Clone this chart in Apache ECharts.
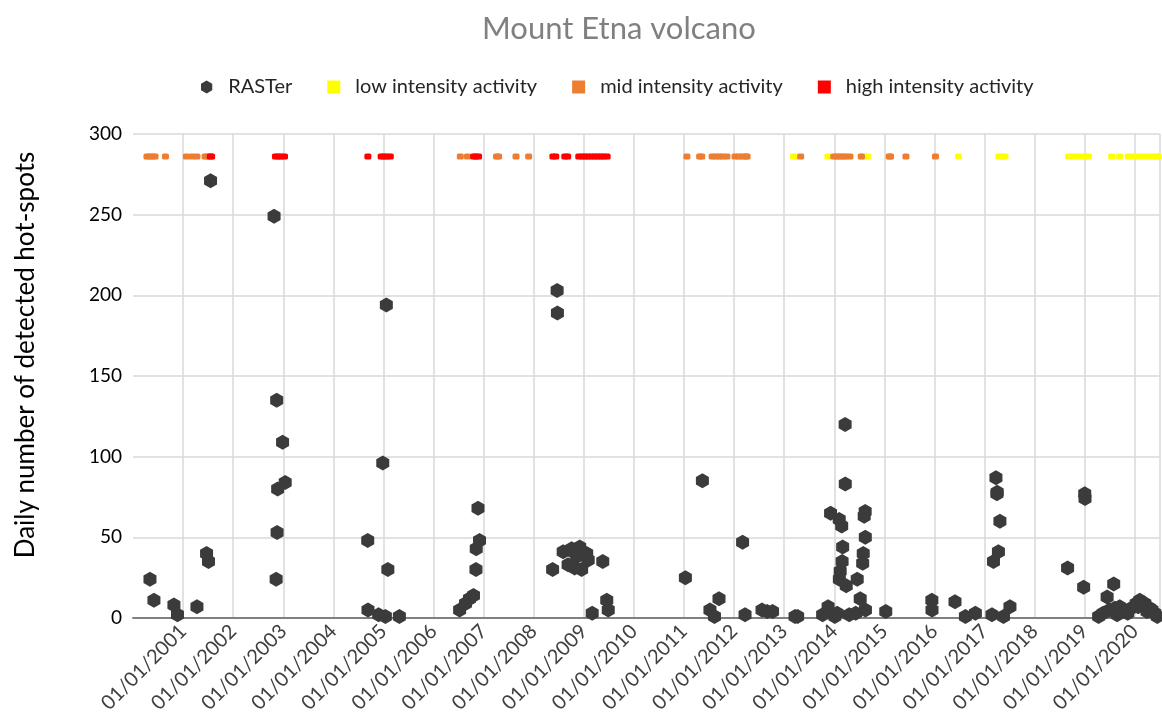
<!DOCTYPE html>
<html>
<head>
<meta charset="utf-8">
<title>Mount Etna volcano</title>
<script src="https://cdn.jsdelivr.net/npm/echarts@6/dist/echarts.min.js"></script>
<style>
    html, body {margin: 0; padding: 0; background: #fff;}
    #chart {width: 1162px; height: 726px;}
</style>
</head>
<body>
<div id="chart"></div>
<script>
const rasterDates = [
    '2000-05-04', '2000-06-02', '2000-10-26', '2000-11-21', '2001-04-12', '2001-06-21', '2001-07-05',
    '2001-07-20', '2002-10-26', '2002-11-10', '2002-11-14', '2002-11-17', '2002-11-21', '2002-12-27',
    '2003-01-15', '2004-09-08', '2004-09-10', '2004-11-27', '2004-12-27', '2005-01-15', '2005-01-22',
    '2005-02-02', '2005-04-27', '2006-07-10', '2006-08-22', '2006-09-20', '2006-10-19', '2006-11-06',
    '2006-11-08', '2006-12-02', '2006-11-21', '2008-05-18', '2008-06-20', '2008-06-22', '2008-08-03',
    '2008-09-08', '2008-09-25', '2008-10-04', '2008-10-26', '2008-11-10', '2008-12-02', '2008-12-16',
    '2009-01-22', '2009-02-02', '2009-03-03', '2009-05-19', '2009-06-17', '2009-06-28', '2011-01-11',
    '2011-05-15', '2011-07-09', '2011-08-11', '2011-09-13', '2012-03-03', '2012-03-21', '2012-07-23',
    '2012-08-30', '2012-10-08', '2013-03-21', '2013-04-09', '2013-10-08', '2013-11-17', '2013-12-05',
    '2014-01-05', '2014-01-22', '2014-02-06', '2014-02-07', '2014-02-13', '2014-02-24', '2014-02-27',
    '2014-03-03', '2014-03-21', '2014-03-22', '2014-03-29', '2014-04-20', '2014-06-06', '2014-06-17',
    '2014-07-09', '2014-07-27', '2014-07-31', '2014-08-07', '2014-08-14', '2014-08-15', '2014-08-16',
    '2015-01-11', '2015-12-13', '2015-12-14', '2016-05-30', '2016-08-14', '2016-10-26', '2017-02-24',
    '2017-03-07', '2017-03-25', '2017-04-01', '2017-04-03', '2017-04-12', '2017-04-23', '2017-05-19',
    '2017-07-05', '2018-08-29', '2018-12-24', '2019-01-01', '2019-01-03', '2019-04-12', '2019-05-15',
    '2019-06-13', '2019-07-01', '2019-07-31', '2019-08-07', '2019-08-25', '2019-09-13', '2019-10-19',
    '2019-11-10', '2019-12-06', '2020-01-11', '2020-01-25', '2020-02-06', '2020-02-20', '2020-03-14',
    '2020-03-30', '2020-04-19', '2020-05-05', '2020-05-26', '2020-06-13',
];
const rasterCounts = [
    24, 11, 8, 2, 7, 40, 35,
    271, 249, 24, 135, 53, 80, 109,
    84, 48, 5, 2, 96, 1, 194,
    30, 1, 5, 9, 12, 14, 30,
    43, 48, 68, 30, 203, 189, 41,
    33, 42, 43, 31, 38, 44, 30,
    40, 36, 3, 35, 11, 5, 25,
    85, 5, 1, 12, 47, 2, 5,
    4, 4, 1, 1, 2, 7, 65,
    1, 3, 61, 24, 29, 57, 35,
    44, 120, 83, 20, 2, 3, 24,
    12, 34, 40, 63, 66, 50, 5,
    4, 11, 5, 10, 1, 3, 2,
    35, 87, 77, 78, 41, 60, 1,
    7, 31, 19, 77, 74, 1, 3,
    13, 5, 21, 6, 2, 7, 4,
    3, 6, 9, 7, 11, 8, 9,
    4, 6, 5, 3, 1,
];

// activity periods are drawn as a strip of marks near the top of the chart
const activityLevel = 286;
const lowDates = [
    '2013-03-10', '2013-03-25', '2013-11-15', '2014-07-12', '2014-08-05', '2014-09-01', '2016-06-25',
    '2017-04-15', '2017-05-10', '2017-05-30', '2018-09-05', '2018-10-05', '2018-11-05', '2018-12-05',
    '2019-01-05', '2019-01-28', '2019-07-16', '2019-09-12', '2019-11-15', '2019-12-15', '2020-01-12',
    '2020-02-10', '2020-03-10', '2020-04-08', '2020-05-08', '2020-06-05', '2020-06-20',
];
const midDates = [
    '2000-04-12', '2000-05-02', '2000-05-22', '2000-06-10', '2000-08-25', '2001-01-25', '2001-03-07',
    '2001-04-12', '2001-06-10', '2001-06-25', '2006-07-15', '2006-09-05', '2007-04-05', '2007-04-20',
    '2007-08-25', '2007-11-25', '2011-01-22', '2011-04-25', '2011-05-10', '2011-07-25', '2011-08-20',
    '2011-09-15', '2011-10-10', '2011-11-10', '2012-01-08', '2012-02-05', '2012-03-01', '2012-03-25',
    '2012-04-05', '2013-05-01', '2013-12-28', '2014-01-20', '2014-02-10', '2014-03-05', '2014-03-25',
    '2014-04-25', '2014-07-18', '2015-02-05', '2015-02-15', '2015-06-07', '2016-01-08',
];
const highDates = [
    '2001-07-18', '2001-07-28', '2002-11-05', '2002-11-25', '2002-12-15', '2003-01-10', '2004-09-09',
    '2004-12-15', '2005-01-05', '2005-01-25', '2005-02-20', '2006-10-20', '2006-11-05', '2006-11-25',
    '2008-05-20', '2008-06-10', '2008-08-15', '2008-09-05', '2008-11-25', '2008-12-20', '2009-01-10',
    '2009-02-01', '2009-02-25', '2009-03-20', '2009-04-10', '2009-05-05', '2009-05-25', '2009-06-20',
];

const yearTicks = [2001, 2002, 2003, 2004, 2005, 2006, 2007, 2008, 2009, 2010,
    2011, 2012, 2013, 2014, 2015, 2016, 2017, 2018, 2019, 2020];


// date string -> fractional year, so the value axis can put a split line on every 1st of January
function toYear(s) {
    const [y, m, d] = s.split('-').map(Number);
    const start = Date.UTC(y, 0, 1);
    const end = Date.UTC(y + 1, 0, 1);
    return y + (Date.UTC(y, m - 1, d) - start) / (end - start);
}

const font = 'Lato, "Open Sans", sans-serif';
const hexagon = 'path://M0,-1L0.866,-0.5L0.866,0.5L0,1L-0.866,0.5L-0.866,-0.5Z';

const chart = echarts.init(document.getElementById('chart'), null, {renderer: 'canvas'});

function activitySeries(name, dates, color) {
    return {
        name,
        type: 'scatter',
        symbol: 'roundRect',
        symbolSize: [7, 6],
        itemStyle: {color, opacity: 1},
        data: dates.map(d => [toYear(d), activityLevel]),
    };
}

chart.setOption({
    animation: false,
    textStyle: {fontFamily: font},
    title: {
        text: 'Mount Etna volcano',
        left: 477,
        top: 8,
        textStyle: {fontSize: 31, fontWeight: 'normal', color: '#808080', fontFamily: font},
    },
    legend: {
        top: 72,
        left: 196,
        itemGap: 35,
        itemWidth: 13,
        itemHeight: 13,
        textStyle: {fontSize: 20, color: '#262626', padding: [0, 0, 0, 10]},
        data: [
            {name: 'RASTer', icon: hexagon, itemStyle: {color: '#3b3b3b'}},
            {name: 'low intensity activity', icon: 'rect'},
            {name: 'mid intensity activity', icon: 'rect'},
            {name: 'high intensity activity', icon: 'rect'},
        ],
    },
    grid: {left: 133, right: 0, top: 134, bottom: 108},
    xAxis: {
        type: 'value',
        min: 2000,
        max: 2020.5,
        interval: 1,
        axisLine: {lineStyle: {color: '#808080', width: 2}},
        axisTick: {show: false},
        axisLabel: {
            showMinLabel: false,
            rotate: 45,
            fontSize: 20,
            color: '#404040',
            margin: 10,
            formatter: v => yearTicks.includes(v) ? '01/01/' + v : '',
        },
        splitLine: {show: true, showMinLine: false, lineStyle: {color: '#d9d9d9', width: 1.5}},
    },
    yAxis: {
        type: 'value',
        min: 0,
        max: 300,
        interval: 50,
        name: 'Daily number of detected hot-spots',
        nameLocation: 'middle',
        nameGap: 94,
        nameTextStyle: {fontSize: 26, color: '#000', padding: [0, 0, 0, 42]},
        axisLine: {show: false},
        axisTick: {show: false},
        axisLabel: {fontSize: 19, color: '#000', margin: 11},
        splitLine: {lineStyle: {color: '#d9d9d9', width: 1.5}},
    },
    series: [
        {
            name: 'RASTer',
            type: 'scatter',
            symbol: hexagon,
            symbolSize: [13, 15],
            itemStyle: {color: '#3b3b3b', opacity: 1},
            data: rasterDates.map((d, i) => [toYear(d), rasterCounts[i]]),
        },
        activitySeries('low intensity activity', lowDates, '#ffff00'),
        activitySeries('mid intensity activity', midDates, '#ed7d31'),
        activitySeries('high intensity activity', highDates, '#ff0000'),
    ],
});
</script>
</body>
</html>
